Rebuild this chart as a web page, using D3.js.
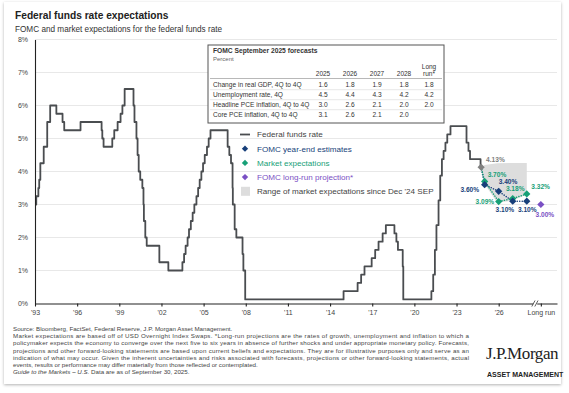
<!DOCTYPE html>
<html lang="en">
<head>
<meta charset="UTF-8">
<title>Federal funds rate expectations</title>
<script src="https://d3js.org/d3.v7.min.js"></script>
<style>
  body { margin: 0; background: #fff; }
  svg { display: block; font-family: "Liberation Sans", Arial, sans-serif; }
  .grid line { stroke: #e2e2e2; stroke-width: 0.8px; }
  .axis path, .axis line { stroke: #222; stroke-width: 1.1px; }
  .axis text { fill: #444; font-size: 7px; font-family: "Liberation Sans", Arial, sans-serif; }
  .ptlabel { font-size: 6.6px; font-weight: bold; }
  .legend text { font-size: 8.1px; }
  .table text { fill: #333; }
  .footer text { font-size: 6.2px; fill: #444; }
</style>
</head>
<body>
<script>
// Federal funds rate (target, midpoint of range after 2008), change dates as decimal years
const rateDates = [1994.0, 1994.09, 1994.24, 1994.30, 1994.38, 1994.62, 1994.87, 1995.08, 1995.52, 1995.96,
  1996.08, 1997.24, 1998.74, 1998.79, 1998.88, 1999.50, 1999.64, 1999.88, 2000.09, 2000.22,
  2000.38, 2001.01, 2001.08, 2001.22, 2001.30, 2001.38, 2001.49, 2001.64, 2001.72, 2001.75,
  2001.85, 2001.95, 2002.85, 2003.49, 2004.49, 2004.61, 2004.72, 2004.86, 2004.96, 2005.09,
  2005.22, 2005.34, 2005.49, 2005.61, 2005.72, 2005.84, 2005.96, 2006.08, 2006.24, 2006.36,
  2006.49, 2007.71, 2007.83, 2007.95, 2008.06, 2008.08, 2008.21, 2008.33, 2008.77, 2008.83,
  2008.96, 2015.96, 2016.96, 2017.21, 2017.45, 2017.96, 2018.21, 2018.45, 2018.74, 2018.97,
  2019.58, 2019.72, 2019.83, 2020.17, 2020.21, 2022.21, 2022.34, 2022.46, 2022.57, 2022.72,
  2022.84, 2022.96, 2023.08, 2023.21, 2023.34, 2023.57, 2024.71, 2024.85, 2024.96, 2025.71, 2025.75];
const rateValues = [3.00, 3.25, 3.50, 3.75, 4.25, 4.75, 5.50, 6.00, 5.75, 5.50,
  5.25, 5.50, 5.25, 5.00, 4.75, 5.00, 5.25, 5.50, 5.75, 6.00,
  6.50, 6.00, 5.50, 5.00, 4.50, 4.00, 3.75, 3.50, 3.00, 2.50,
  2.00, 1.75, 1.25, 1.00, 1.25, 1.50, 1.75, 2.00, 2.25, 2.50,
  2.75, 3.00, 3.25, 3.50, 3.75, 4.00, 4.25, 4.50, 4.75, 5.00,
  5.25, 4.75, 4.50, 4.25, 3.50, 3.00, 2.25, 2.00, 1.50, 1.00,
  0.125, 0.375, 0.625, 0.875, 1.125, 1.375, 1.625, 1.875, 2.125, 2.375,
  2.125, 1.875, 1.625, 1.125, 0.125, 0.375, 0.875, 1.625, 2.375, 3.125,
  3.875, 4.375, 4.625, 4.875, 5.125, 5.375, 4.875, 4.625, 4.375, 4.125, 4.125];

const currentDate = 2025.75;
const currentRate = 4.13;
const projDates = [2026, 2027, 2028, 2029];          // year-end 2025..2028
const fomcValues = [3.60, 3.40, 3.10, 3.10];
const marketValues = [3.70, 3.09, 3.18, 3.32];
const longRunDate = 2030;
const longRunValue = 3.00;

const rangeDates = [2025.75, 2026, 2026.9, 2028, 2029];
const rangeHigh = [4.13, 4.20, 4.25, 4.26, 4.26];
const rangeLow = [4.13, 3.62, 3.05, 3.12, 3.30];

const xTickValues = [1994, 1997, 2000, 2003, 2006, 2009, 2012, 2015, 2018, 2021, 2024, 2027, 2030];
const xTickLabels = ["'93", "'96", "'99", "'02", "'05", "'08", "'11", "'14", "'17", "'20", "'23", "'26", "Long run"];
const yTickValues = [0, 1, 2, 3, 4, 5, 6, 7, 8];

const tableCols = ["2025", "2026", "2027", "2028"];
const tableRows = ["Change in real GDP, 4Q to 4Q", "Unemployment rate, 4Q", "Headline PCE inflation, 4Q to 4Q", "Core PCE inflation, 4Q to 4Q"];
const gdpValues = ["1.6", "1.8", "1.9", "1.8", "1.8"];
const unempValues = ["4.5", "4.4", "4.3", "4.2", "4.2"];
const headlineValues = ["3.0", "2.6", "2.1", "2.0", "2.0"];
const coreValues = ["3.1", "2.6", "2.1", "2.0", ""];

const footerLines = [
  "Source: Bloomberg, FactSet, Federal Reserve, J.P. Morgan Asset Management.",
  "Market expectations are based off of USD Overnight Index Swaps. *Long-run projections are the rates of growth, unemployment and inflation to which a",
  "policymaker expects the economy to converge over the next five to six years in absence of further shocks and under appropriate monetary policy. Forecasts,",
  "projections and other forward-looking statements are based upon current beliefs and expectations. They are for illustrative purposes only and serve as an",
  "indication of what may occur. Given the inherent uncertainties and risks associated with forecasts, projections or other forward-looking statements, actual",
  "events, results or performance may differ materially from those reflected or contemplated."
];

const colors = { rate: "#4a4d50", fomc: "#173f7a", market: "#17a077", longrun: "#7a50c4", current: "#808080", range: "#dddddd" };

const width = 569, height = 393;
const svg = d3.select("body").append("svg").attr("width", width).attr("height", height);

// card with shadow
const defs = svg.append("defs");
defs.append("filter").attr("id", "shadow").attr("x", "-5%").attr("y", "-5%").attr("width", "110%").attr("height", "110%")
  .append("feDropShadow").attr("dx", 0).attr("dy", 1).attr("stdDeviation", 1.5)
  .attr("flood-color", "#000").attr("flood-opacity", 0.3);
svg.append("rect").attr("x", 4).attr("y", 2).attr("width", 557).attr("height", 382)
  .attr("fill", "#fff").attr("filter", "url(#shadow)");

// titles
svg.append("text").attr("x", 15).attr("y", 19).attr("font-size", 10.2).attr("font-weight", "bold")
  .attr("fill", "#222").text("Federal funds rate expectations");
svg.append("text").attr("x", 15).attr("y", 32).attr("font-size", 8.2).attr("fill", "#333")
  .text("FOMC and market expectations for the federal funds rate");

const x = d3.scaleLinear().domain([1994, 2031.15]).range([35, 557]);
const y = d3.scaleLinear().domain([0, 8]).range([303.5, 39.5]);

// gridlines
svg.append("g").attr("class", "grid")
  .selectAll("line").data(yTickValues.filter(d => d > 0)).join("line")
  .attr("x1", x.range()[0]).attr("x2", x.range()[1])
  .attr("y1", d => y(d)).attr("y2", d => y(d));

// range of market expectations
const area = d3.area().x((d, i) => x(rangeDates[i])).y0((d, i) => y(rangeLow[i])).y1((d, i) => y(rangeHigh[i]));
svg.append("path").datum(rangeDates).attr("d", area).attr("fill", colors.range);

// fed funds rate line
const rateLine = d3.line().curve(d3.curveStepAfter).x((d, i) => x(rateDates[i])).y((d, i) => y(rateValues[i]));
svg.append("path").datum(rateDates).attr("d", rateLine)
  .attr("fill", "none").attr("stroke", colors.rate).attr("stroke-width", 1.8).attr("stroke-linejoin", "round");

// dotted paths from current rate
const dotLine = d3.line().x(d => x(d[0])).y(d => y(d[1]));
[[fomcValues, colors.fomc], [marketValues, colors.market]].forEach(([vals, c]) => {
  const pts = [[currentDate, currentRate]].concat(projDates.map((d, i) => [d, vals[i]]));
  svg.append("path").datum(pts).attr("d", dotLine).attr("fill", "none")
    .attr("stroke", c).attr("stroke-width", 1.5).attr("stroke-dasharray", "0.1,2.4").attr("stroke-linecap", "round");
});

const diamond = size => d3.symbol(d3.symbolSquare, size)();
function marker(g, cx, cy, color, size) {
  g.append("path").attr("d", diamond(size)).attr("fill", color)
    .attr("transform", `translate(${cx},${cy}) rotate(45)`);
}

const marks = svg.append("g");
marker(marks, x(currentDate), y(currentRate), colors.current, 26);
projDates.forEach((d, i) => marker(marks, x(d), y(marketValues[i]), colors.market, 26));
projDates.forEach((d, i) => marker(marks, x(d), y(fomcValues[i]), colors.fomc, 26));
marker(marks, x(longRunDate), y(longRunValue), colors.longrun, 26);

// point labels: [date, value, colour, dx, dy, anchor]
const fmt = v => v.toFixed(2) + "%";
const labelSpecs = [
  [currentDate, currentRate, colors.current, 5, -5.5, "start"],
  [projDates[0], marketValues[0], colors.market, 3, -4.5, "start"],
  [projDates[0], fomcValues[0], colors.fomc, -5.5, 7.5, "end"],
  [projDates[1], fomcValues[1], colors.fomc, 0, -7, "start"],
  [projDates[2], marketValues[2], colors.market, 2.5, -7.5, "middle"],
  [projDates[3], marketValues[3], colors.market, 4.5, -4.5, "start"],
  [projDates[1], marketValues[1], colors.market, -4.5, 2.3, "end"],
  [projDates[2], fomcValues[2], colors.fomc, 1.5, 10.3, "end"],
  [projDates[3], fomcValues[3], colors.fomc, 0.5, 10.3, "middle"],
  [longRunDate, longRunValue, colors.longrun, 4, 12.8, "middle"]
];
svg.append("g").selectAll("text").data(labelSpecs).join("text")
  .attr("class", "ptlabel")
  .attr("x", d => x(d[0]) + d[3]).attr("y", d => y(d[1]) + d[4])
  .attr("fill", d => d[2]).attr("text-anchor", d => d[5])
  .text(d => fmt(d[1]));

// axes
const xAxis = svg.append("g").attr("class", "axis").attr("transform", `translate(0,${y(0)})`)
  .call(d3.axisBottom(x).tickValues(xTickValues).tickFormat((d, i) => xTickLabels[i]).tickSize(3).tickSizeOuter(0).tickPadding(3.5));
const yAxis = svg.append("g").attr("class", "axis").attr("transform", `translate(${x.range()[0]},0)`)
  .call(d3.axisLeft(y).tickValues(yTickValues).tickFormat(d => d + "%").tickSize(0).tickPadding(7));

// axis break before long run
const bx = x(2029.6), by = y(0);
svg.append("rect").attr("x", bx - 2).attr("y", by - 1.5).attr("width", 4).attr("height", 3).attr("fill", "#fff");
[-1.8, 1.2].forEach(o => svg.append("line")
  .attr("x1", bx + o - 1.6).attr("y1", by + 3).attr("x2", bx + o + 1.6).attr("y2", by - 3)
  .attr("stroke", "#333").attr("stroke-width", 0.8));

// forecast table
const table = svg.append("g").attr("class", "table");
table.append("rect").attr("x", 208).attr("y", 45).attr("width", 236).attr("height", 78)
  .attr("fill", "#fff").attr("stroke", "#555").attr("stroke-width", 1);
table.append("text").attr("x", 213).attr("y", 53).attr("font-size", 6.7).attr("font-weight", "bold")
  .attr("fill", "#222").text("FOMC September 2025 forecasts");
table.append("text").attr("x", 213).attr("y", 61).attr("font-size", 6).style("fill", "#666").text("Percent");
const colX = [323, 350, 377, 404, 429];
tableCols.forEach((c, i) => table.append("text").attr("x", colX[i]).attr("y", 75.5)
  .attr("text-anchor", "middle").attr("font-size", 6.5).text(c));
table.append("text").attr("x", colX[4]).attr("y", 68.5).attr("text-anchor", "middle").attr("font-size", 6.5).text("Long");
table.append("text").attr("x", colX[4]).attr("y", 75.5).attr("text-anchor", "middle").attr("font-size", 6.5).text("run*");
table.append("line").attr("x1", 210).attr("x2", 442).attr("y1", 78.5).attr("y2", 78.5).attr("stroke", "#999").attr("stroke-width", 0.7);
const rowVals = [gdpValues, unempValues, headlineValues, coreValues];
tableRows.forEach((r, j) => {
  const by = 86.5 + j * 10;
  table.append("text").attr("x", 213).attr("y", by).attr("font-size", 6.6).text(r);
  rowVals[j].forEach((v, i) => table.append("text").attr("x", colX[i]).attr("y", by)
    .attr("text-anchor", "middle").attr("font-size", 6.6).text(v));
  if (j < 3) table.append("line").attr("x1", 210).attr("x2", 442).attr("y1", by + 3.2).attr("y2", by + 3.2)
    .attr("stroke", "#d6d6d6").attr("stroke-width", 0.6);
});

// legend
const legendItems = [
  { label: "Federal funds rate", color: "#444", type: "line" },
  { label: "FOMC year-end estimates", color: colors.fomc, type: "diamond" },
  { label: "Market expectations", color: colors.market, type: "diamond" },
  { label: "FOMC long-run projection*", color: colors.longrun, type: "diamond" },
  { label: "Range of market expectations since Dec '24 SEP", color: "#444", type: "box" }
];
const legend = svg.append("g").attr("class", "legend");
legendItems.forEach((d, i) => {
  const ly = 134.5 + i * 14.2;
  if (d.type === "line") legend.append("line").attr("x1", 240).attr("x2", 250).attr("y1", ly).attr("y2", ly)
    .attr("stroke", colors.rate).attr("stroke-width", 1.8);
  if (d.type === "diamond") marker(legend, 245, ly, d.color, 20);
  if (d.type === "box") legend.append("rect").attr("x", 241).attr("y", ly - 4.5).attr("width", 9).attr("height", 9).attr("fill", colors.range);
  legend.append("text").attr("x", 257).attr("y", ly + 2.8).attr("fill", d.color).text(d.label);
});

// footer (middle lines justified to the same width)
const footer = svg.append("g").attr("class", "footer");
footerLines.forEach((t, i) => {
  const line = footer.append("text").attr("x", 13).attr("y", 331 + i * 7.2).text(t);
  if (i >= 1 && i <= 4) line.attr("textLength", 456).attr("lengthAdjust", "spacing");
});
const last = footer.append("text").attr("x", 13).attr("y", 331 + 6 * 7.2);
last.append("tspan").attr("font-style", "italic").text("Guide to the Markets – U.S.");
last.append("tspan").text(" Data are as of September 30, 2025.");

// logo
svg.append("text").attr("x", 486).attr("y", 359).attr("font-family", "'Liberation Serif', 'Times New Roman', serif")
  .attr("font-size", 17).attr("letter-spacing", -0.4).attr("fill", "#222").text("J.P.Morgan");
svg.append("text").attr("x", 487).attr("y", 377).attr("font-size", 7).attr("font-weight", "bold")
  .attr("fill", "#222").text("ASSET MANAGEMENT");
</script>
</body>
</html>
